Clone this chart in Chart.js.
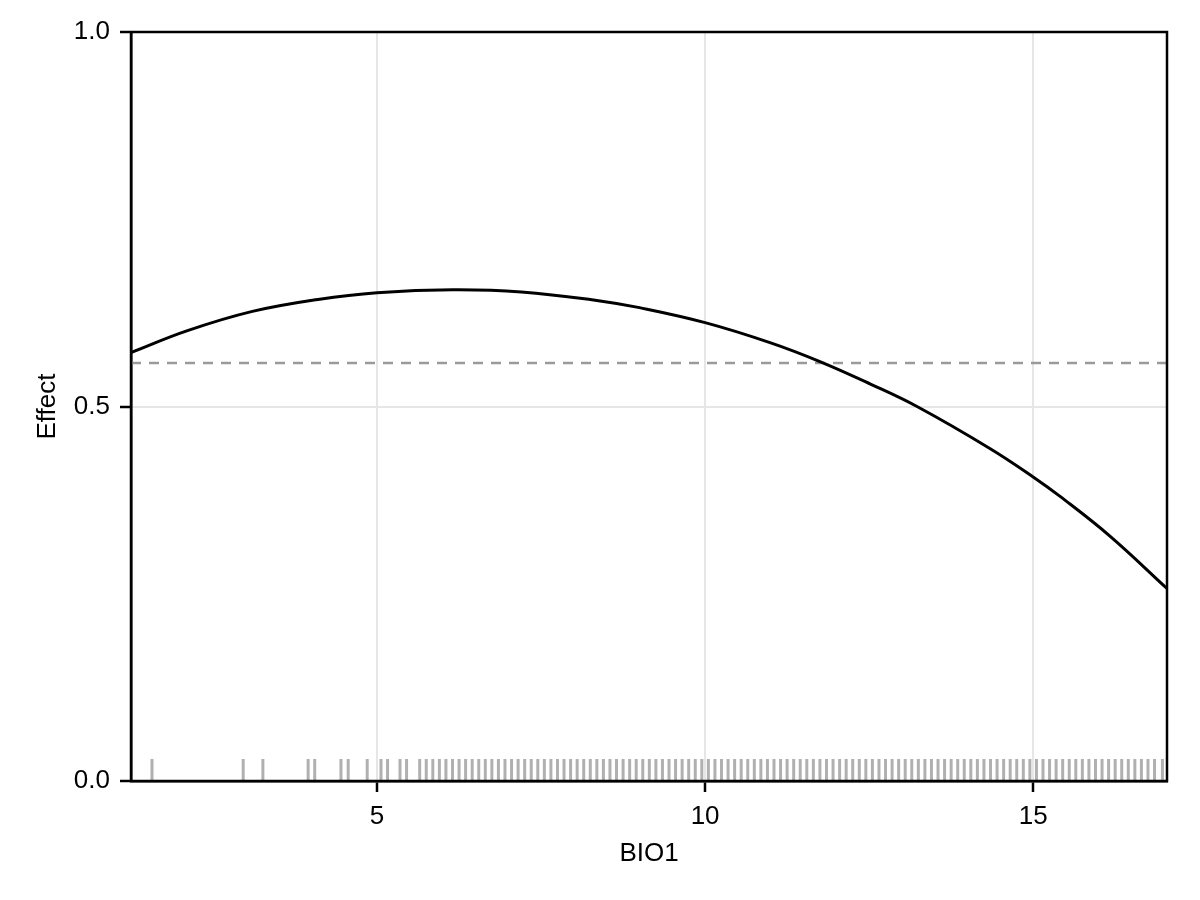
<!DOCTYPE html>
<html>
<head>
<meta charset="utf-8">
<script src="https://cdn.jsdelivr.net/npm/chart.js@4.4.1/dist/chart.umd.min.js"></script>
<style>
  html, body { margin: 0; padding: 0; background: #ffffff; }
  #wrap { width: 1200px; height: 900px; }
</style>
</head>
<body>
<div id="wrap"><canvas id="c" width="1200" height="900"></canvas></div>
<script>
// ---- data ----
const curveX = [1.25, 2.1, 3.1, 4.1, 5.0, 6.16, 7.2, 8.4, 9.0, 10.0, 11.0, 11.75, 12.52, 13.23, 14.34, 15.0, 15.41, 16.17, 17.04];
const curveY = [0.572, 0.601, 0.627, 0.643, 0.652, 0.656, 0.653, 0.641, 0.632, 0.612, 0.585, 0.560, 0.530, 0.500, 0.444, 0.406, 0.380, 0.327, 0.257];
const baselineEffect = 0.558;
const rugX = [1.57, 2.96, 3.26, 3.95, 4.05, 4.45, 4.56, 4.85, 5.06, 5.16, 5.35, 5.45,
  5.65, 5.75, 5.85, 5.95, 6.05, 6.15, 6.25, 6.35, 6.45, 6.55, 6.65, 6.75, 6.85, 6.95,
  7.05, 7.15, 7.25, 7.35, 7.45, 7.55, 7.65, 7.75, 7.85, 7.95,
  8.05, 8.15, 8.25, 8.35, 8.45, 8.55, 8.65, 8.75, 8.85, 8.95,
  9.05, 9.15, 9.25, 9.35, 9.45, 9.55, 9.65, 9.75, 9.85, 9.95,
  10.05, 10.15, 10.25, 10.35, 10.45, 10.55, 10.65, 10.75, 10.85, 10.95,
  11.05, 11.15, 11.25, 11.35, 11.45, 11.55, 11.65, 11.75, 11.85, 11.95,
  12.05, 12.15, 12.25, 12.35, 12.45, 12.55, 12.65, 12.75, 12.85, 12.95,
  13.05, 13.15, 13.25, 13.35, 13.45, 13.55, 13.65, 13.75, 13.85, 13.95,
  14.05, 14.15, 14.25, 14.35, 14.45, 14.55, 14.65, 14.75, 14.85, 14.95,
  15.05, 15.15, 15.25, 15.35, 15.45, 15.55, 15.65, 15.75, 15.85, 15.95,
  16.05, 16.15, 16.25, 16.35, 16.45, 16.55, 16.65, 16.75, 16.85, 16.97];
const rugLevel = 0.0147;
const xTicks = [5, 10, 15];
const yTicks = [0.0, 0.5, 1.0];
const xLimits = [1.25, 17.04];
const yLimits = [0, 1];
const xLabel = 'BIO1';
const yLabel = 'Effect';

// ---- build ----
const FONT = "'Liberation Sans', Arial, 'DejaVu Sans', sans-serif";
const curveData = curveX.map((x, i) => ({ x: x, y: curveY[i] }));
const hlineData = xLimits.map(x => ({ x: x, y: baselineEffect }));
const rugData = rugX.map(x => ({ x: x, y: rugLevel }));

const framePlugin = {
  id: 'frame',
  afterDraw(chart) {
    const a = chart.chartArea, ctx = chart.ctx;
    ctx.save();
    ctx.strokeStyle = '#000000';
    ctx.lineWidth = 2.5;
    ctx.strokeRect(a.left, a.top, a.right - a.left, a.bottom - a.top);
    ctx.restore();
  }
};

new Chart(document.getElementById('c'), {
  type: 'scatter',
  data: {
    datasets: [
      {
        label: 'rug',
        data: rugData,
        pointStyle: 'line',
        rotation: 90,
        pointRadius: 11,
        pointHoverRadius: 11,
        borderColor: '#b0b0b0',
        backgroundColor: '#b0b0b0',
        pointBorderWidth: 3,
        borderWidth: 3,
        showLine: false,
        order: 3
      },
      {
        label: 'baseline',
        data: hlineData,
        showLine: true,
        borderColor: '#9a9a9a',
        borderWidth: 2.5,
        borderDash: [10, 8],
        pointRadius: 0,
        order: 2
      },
      {
        label: 'effect',
        data: curveData,
        showLine: true,
        borderColor: '#000000',
        borderWidth: 3,
        pointRadius: 0,
        tension: 0.4,
        order: 1
      }
    ]
  },
  options: {
    responsive: false,
    animation: false,
    devicePixelRatio: 1,
    layout: { padding: { top: 32, right: 33, left: 0, bottom: 0 } },
    plugins: { legend: { display: false }, tooltip: { enabled: false } },
    scales: {
      x: {
        type: 'linear',
        min: xLimits[0],
        max: xLimits[1],
        afterBuildTicks: (axis) => { axis.ticks = xTicks.map(v => ({ value: v })); },
        afterFit: (axis) => { axis.height = 119; },
        grid: { color: '#e6e6e6', lineWidth: 2, tickColor: '#000000', tickWidth: 2.5, tickLength: 11, drawTicks: true },
        border: { display: true, color: '#000000', width: 2.5 },
        ticks: { color: '#000000', font: { family: FONT, size: 26 }, padding: 9, maxRotation: 0,
                 callback: (v) => String(v) },
        title: { display: true, text: xLabel, color: '#000000', font: { family: FONT, size: 26 }, padding: { top: 0, bottom: 31 } }
      },
      y: {
        type: 'linear',
        min: yLimits[0],
        max: yLimits[1],
        afterBuildTicks: (axis) => { axis.ticks = yTicks.map(v => ({ value: v })); },
        afterFit: (axis) => { axis.width = 131; },
        grid: { color: '#e6e6e6', lineWidth: 2, tickColor: '#000000', tickWidth: 2.5, tickLength: 11, drawTicks: true },
        border: { display: true, color: '#000000', width: 2.5 },
        ticks: { color: '#000000', font: { family: FONT, size: 26 }, padding: 10,
                 callback: (v) => Number(v).toFixed(1) },
        title: { display: true, text: yLabel, color: '#000000', font: { family: FONT, size: 26 }, padding: { top: 32, bottom: 0 } }
      }
    }
  },
  plugins: [framePlugin]
});
</script>
</body>
</html>
